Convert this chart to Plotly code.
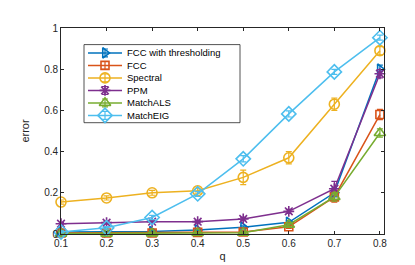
import plotly.graph_objects as go

q = [0.1, 0.2, 0.3, 0.4, 0.5, 0.6, 0.7, 0.8]
q_labels = ["0.1", "0.2", "0.3", "0.4", "0.5", "0.6", "0.7", "0.8"]
y_ticks = [0, 0.2, 0.4, 0.6, 0.8, 1]
y_labels = ["0", "0.2", "0.4", "0.6", "0.8", "1"]

fcc_thr = [0.010, 0.010, 0.012, 0.020, 0.033, 0.057, 0.200, 0.800]
fcc_thr_err = [0.004, 0.004, 0.004, 0.005, 0.006, 0.008, 0.020, 0.020]

fcc = [0.005, 0.005, 0.005, 0.008, 0.010, 0.035, 0.180, 0.580]
fcc_err = [0.003, 0.003, 0.003, 0.004, 0.005, 0.008, 0.025, 0.025]

spectral = [0.155, 0.175, 0.200, 0.210, 0.275, 0.370, 0.630, 0.890]
spectral_err = [0.010, 0.010, 0.012, 0.012, 0.035, 0.030, 0.030, 0.020]

ppm = [0.050, 0.055, 0.060, 0.060, 0.073, 0.110, 0.220, 0.778]
ppm_err = [0.005, 0.005, 0.005, 0.005, 0.008, 0.010, 0.035, 0.020]

matchals = [0.002, 0.002, 0.003, 0.005, 0.006, 0.045, 0.180, 0.490]
matchals_err = [0.002, 0.002, 0.002, 0.003, 0.004, 0.008, 0.020, 0.020]

matcheig = [0.010, 0.030, 0.080, 0.195, 0.365, 0.583, 0.787, 0.953]
matcheig_err = [0.005, 0.006, 0.010, 0.012, 0.015, 0.015, 0.012, 0.012]

names = ["FCC with thresholding", "FCC", "Spectral", "PPM", "MatchALS", "MatchEIG"]
values = [fcc_thr, fcc, spectral, ppm, matchals, matcheig]
errors = [fcc_thr_err, fcc_err, spectral_err, ppm_err, matchals_err, matcheig_err]

colors = ["#0072BD", "#D95319", "#EDB120", "#7E2F8E", "#77AC30", "#4DBEEE"]
symbols = ["triangle-right-open", "square-open", "circle-open", "asterisk-open",
           "triangle-up-open", "diamond-open"]
sizes = [9, 8, 10, 9, 10, 11]

fig = go.Figure()
for name, y, e, c, sym, sz in zip(names, values, errors, colors, symbols, sizes):
    fig.add_trace(go.Scatter(
        x=q, y=y, name=name, mode="lines+markers", cliponaxis=False, showlegend=False,
        line=dict(color=c, width=1.5),
        marker=dict(symbol=sym, size=sz, color=c, line=dict(color=c, width=1.6)),
        error_y=dict(type="data", array=e, visible=True, color=c, thickness=1.2, width=3),
    ))

# ---- legend drawn on an overlay axis measured in pixels of the plot area ----
L, R, T, B = 53, 376, 20, 231
box_x0, box_x1, box_y0, box_y1 = 76, 232, 37, 117
row0, row_step = 45.5, 12.8
line_x0, line_x1, mark_x, text_x = 80, 114, 97, 117

fig.add_trace(go.Scatter(
    x=[box_x0, box_x1, box_x1, box_x0, box_x0], y=[box_y0, box_y0, box_y1, box_y1, box_y0],
    xaxis="x2", yaxis="y2", mode="lines", fill="toself", fillcolor="white",
    line=dict(color="#262626", width=0.8), showlegend=False, hoverinfo="skip"))

annotations = []
for i, (name, c, sym, sz) in enumerate(zip(names, colors, symbols, sizes)):
    yy = row0 + i * row_step
    fig.add_trace(go.Scatter(
        x=[line_x0, line_x1], y=[yy, yy], xaxis="x2", yaxis="y2", mode="lines",
        line=dict(color=c, width=1.5), showlegend=False, hoverinfo="skip"))
    fig.add_trace(go.Scatter(
        x=[mark_x], y=[yy], xaxis="x2", yaxis="y2", mode="markers",
        marker=dict(symbol=sym, size=sz, color=c, line=dict(color=c, width=1.6)),
        error_y=dict(type="constant", value=4, visible=True, color=c, thickness=1.2, width=3),
        showlegend=False, hoverinfo="skip"))
    annotations.append(dict(x=text_x, y=yy, xref="x2", yref="y2", text=name, showarrow=False,
                            xanchor="left", yanchor="middle",
                            font=dict(family="Liberation Sans, Arial", size=9.5, color="black")))

axis_common = dict(
    showline=True, linecolor="#262626", linewidth=0.8, mirror="ticks",
    ticks="inside", ticklen=3, tickcolor="#262626", showgrid=False, zeroline=False,
    tickfont=dict(family="Liberation Sans, Arial", size=10, color="#262626"),
)

fig.update_layout(
    width=415, height=265,
    margin=dict(l=L, r=415 - R, t=T, b=265 - B),
    paper_bgcolor="white", plot_bgcolor="white",
    font=dict(family="Liberation Sans, Arial", size=10, color="#262626"),
    xaxis=dict(range=[0.1, 0.809], tickvals=q, ticktext=q_labels,
               title=dict(text="q", standoff=4, font=dict(size=11)), **axis_common),
    yaxis=dict(range=[0, 1], tickvals=y_ticks, ticktext=y_labels,
               title=dict(text="error", standoff=12, font=dict(size=11)), **axis_common),
    xaxis2=dict(overlaying="x", range=[L, R], visible=False, fixedrange=True),
    yaxis2=dict(overlaying="y", range=[B, T], visible=False, fixedrange=True),
    annotations=annotations,
    showlegend=False,
)

fig.write_html("out.html")
